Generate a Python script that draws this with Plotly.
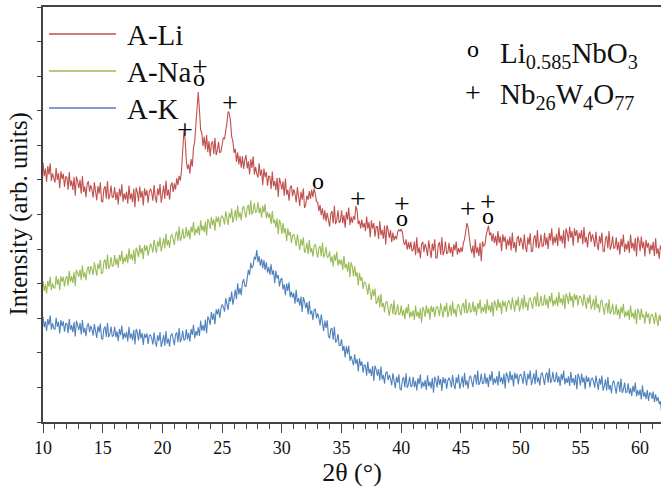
import numpy as np
import plotly.graph_objects as go

# 2theta grid (degrees): 0.1 deg steps, 10.0 .. 61.8
two_theta = np.arange(100, 619) / 10.0

# intensities (arb. units, offset-stacked as in the figure), one row per degree
a_li = [
    750, 711, 733, 695, 740, 715, 748, 697, 719, 700,
    692, 734, 700, 719, 676, 725, 702, 718, 680, 709,
    708, 672, 723, 682, 698, 671, 708, 654, 710, 695,
    676, 701, 660, 711, 665, 681, 650, 689, 696, 666,
    685, 672, 649, 693, 657, 641, 682, 660, 693, 638,
    637, 674, 682, 646, 697, 644, 656, 684, 648, 652,
    679, 642, 665, 629, 675, 652, 687, 637, 661, 643,
    666, 631, 684, 644, 661, 636, 674, 621, 678, 665,
    638, 681, 648, 668, 626, 676, 654, 671, 634, 664,
    675, 663, 640, 685, 650, 634, 676, 655, 688, 634,
    657, 684, 645, 698, 654, 672, 643, 684, 693, 665,
    690, 672, 705, 685, 712, 698, 728, 775, 842, 818,
    755, 732, 745, 718, 760, 738, 792, 810, 852, 898,
    954, 902, 845, 835, 798, 825, 788, 830, 780, 812,
    768, 805, 812, 775, 822, 772, 785, 810, 778, 782,
    798, 822, 818, 852, 865, 898, 892, 870, 825, 812,
    778, 790, 752, 780, 745, 770, 735, 768, 732, 758,
    772, 733, 754, 716, 760, 735, 768, 716, 738, 718,
    707, 748, 712, 730, 685, 733, 708, 723, 683, 711,
    710, 673, 724, 682, 697, 670, 706, 651, 706, 691,
    672, 696, 654, 704, 657, 672, 640, 678, 684, 653,
    673, 660, 635, 679, 642, 625, 666, 643, 675, 619,
    628, 655, 642, 668, 645, 672, 650, 675, 660, 638,
    635, 610, 628, 598, 618, 585, 612, 580, 605, 588,
    565, 602, 610, 574, 625, 572, 584, 612, 576, 580,
    612, 575, 598, 562, 608, 585, 620, 570, 594, 576,
    595, 585, 625, 612, 572, 582, 560, 585, 562, 575,
    552, 594, 559, 578, 534, 583, 559, 575, 536, 565,
    565, 529, 581, 540, 556, 530, 567, 513, 569, 555,
    532, 555, 520, 548, 525, 538, 528, 550, 556, 552,
    558, 548, 520, 512, 528, 498, 520, 500, 522, 495,
    497, 522, 482, 534, 488, 505, 474, 514, 521, 492,
    515, 503, 480, 525, 490, 474, 516, 495, 528, 474,
    475, 512, 520, 484, 535, 482, 494, 522, 486, 490,
    518, 488, 506, 478, 514, 496, 522, 484, 503, 490,
    505, 492, 518, 528, 552, 575, 562, 522, 505, 488,
    510, 475, 528, 488, 505, 480, 518, 465, 522, 509,
    512, 538, 552, 568, 540, 548, 522, 545, 518, 538,
    510, 552, 518, 537, 494, 543, 521, 536, 499, 528,
    510, 536, 496, 548, 503, 520, 490, 530, 538, 509,
    533, 521, 498, 543, 508, 492, 534, 513, 546, 492,
    495, 532, 540, 504, 555, 502, 514, 542, 506, 510,
    547, 511, 535, 500, 546, 524, 560, 511, 536, 518,
    544, 509, 562, 523, 540, 516, 554, 502, 560, 547,
    522, 565, 532, 552, 510, 560, 538, 555, 518, 548,
    530, 555, 514, 564, 519, 535, 505, 543, 551, 521,
    543, 530, 506, 550, 514, 497, 538, 516, 548, 494,
    493, 530, 538, 502, 552, 498, 510, 537, 501, 505,
    534, 497, 520, 484, 530, 507, 542, 492, 516, 498,
    524, 489, 542, 502, 519, 494, 532, 479, 536, 523,
    494, 536, 502, 521, 479, 527, 504, 518, 485, 513,
    496, 521, 480, 531, 486, 502, 472, 510, 497,
]

a_na = [
    408, 379, 398, 371, 408, 391, 420, 381, 401, 388,
    387, 422, 397, 414, 381, 422, 405, 420, 391, 416,
    421, 394, 437, 406, 421, 402, 434, 393, 440, 431,
    420, 441, 410, 453, 418, 433, 410, 443, 450, 427,
    451, 442, 425, 462, 435, 423, 458, 442, 469, 428,
    432, 463, 470, 442, 484, 443, 453, 477, 449, 453,
    483, 454, 473, 446, 483, 466, 495, 456, 476, 463,
    486, 459, 502, 471, 486, 467, 498, 457, 504, 495,
    477, 512, 487, 504, 471, 512, 495, 510, 481, 506,
    516, 507, 490, 527, 500, 488, 523, 507, 534, 493,
    511, 532, 502, 545, 510, 526, 503, 536, 543, 521,
    512, 543, 551, 523, 565, 524, 535, 559, 531, 535,
    564, 535, 555, 528, 565, 548, 578, 539, 559, 546,
    567, 540, 583, 553, 568, 549, 580, 539, 587, 578,
    558, 593, 569, 586, 553, 594, 578, 593, 564, 590,
    597, 588, 571, 609, 582, 570, 605, 589, 617, 576,
    592, 613, 582, 626, 591, 606, 583, 616, 624, 601,
    590, 621, 628, 599, 641, 600, 610, 634, 605, 609,
    636, 604, 620, 591, 625, 605, 631, 589, 607, 591,
    603, 572, 610, 575, 585, 562, 588, 543, 585, 572,
    544, 575, 546, 560, 523, 560, 539, 550, 518, 539,
    542, 530, 509, 543, 513, 497, 529, 510, 534, 489,
    499, 518, 485, 527, 490, 503, 478, 509, 514, 490,
    475, 504, 509, 479, 519, 476, 484, 506, 476, 478,
    493, 462, 479, 450, 485, 466, 493, 452, 470, 455,
    470, 440, 480, 445, 457, 435, 463, 419, 462, 450,
    421, 451, 421, 433, 395, 431, 409, 419, 385, 405,
    402, 389, 368, 400, 369, 353, 384, 364, 386, 341,
    349, 366, 332, 371, 332, 344, 317, 346, 349, 323,
    307, 336, 342, 312, 352, 309, 318, 340, 310, 313,
    337, 307, 324, 297, 332, 313, 341, 301, 319, 305,
    323, 295, 337, 305, 319, 299, 329, 287, 333, 323,
    304, 338, 313, 329, 296, 336, 318, 333, 303, 328,
    335, 325, 307, 343, 315, 302, 336, 319, 345, 303,
    319, 339, 307, 349, 313, 327, 303, 335, 341, 317,
    308, 338, 344, 315, 356, 314, 323, 346, 317, 320,
    348, 318, 336, 308, 344, 326, 354, 314, 333, 319,
    341, 313, 355, 323, 337, 317, 347, 305, 351, 341,
    322, 356, 330, 346, 312, 352, 334, 348, 318, 342,
    352, 342, 324, 360, 332, 319, 353, 336, 362, 320,
    338, 358, 326, 368, 332, 346, 322, 354, 360, 336,
    327, 357, 363, 334, 375, 333, 342, 365, 336, 339,
    368, 338, 356, 328, 364, 346, 374, 334, 353, 339,
    362, 334, 376, 344, 358, 338, 368, 326, 372, 362,
    341, 375, 349, 365, 331, 371, 353, 367, 337, 361,
    364, 353, 335, 370, 341, 327, 361, 343, 368, 326,
    337, 356, 324, 366, 330, 341, 317, 348, 353, 328,
    310, 339, 344, 315, 355, 312, 321, 342, 312, 314,
    340, 309, 327, 298, 333, 315, 342, 302, 320, 306,
    324, 295, 337, 303, 316, 297, 326, 283, 328, 318,
    295, 328, 302, 311, 284, 320, 302, 314, 283, 307,
    312, 301, 283, 317, 290, 277, 310, 292, 318,
]

a_k = [
    304, 274, 291, 263, 298, 280, 308, 267, 286, 271,
    267, 301, 275, 290, 256, 295, 277, 291, 261, 284,
    285, 257, 298, 266, 280, 260, 289, 247, 293, 282,
    266, 286, 253, 295, 258, 272, 248, 279, 285, 260,
    278, 268, 250, 283, 256, 243, 277, 259, 285, 242,
    240, 270, 276, 246, 287, 245, 254, 276, 247, 250,
    275, 245, 262, 234, 269, 251, 279, 239, 258, 243,
    261, 233, 275, 242, 256, 236, 266, 224, 269, 259,
    236, 269, 242, 257, 223, 255, 243, 256, 226, 249,
    252, 242, 224, 259, 231, 218, 251, 234, 260, 217,
    232, 252, 220, 263, 227, 241, 218, 250, 256, 233,
    222, 253, 259, 231, 272, 231, 241, 264, 236, 239,
    268, 239, 258, 232, 269, 252, 281, 242, 263, 250,
    274, 249, 293, 264, 280, 263, 296, 256, 305, 297,
    281, 318, 295, 314, 283, 326, 311, 328, 301, 328,
    340, 333, 319, 358, 334, 324, 361, 348, 377, 339,
    359, 383, 355, 401, 369, 387, 367, 403, 413, 393,
    392, 425, 440, 425, 460, 445, 452, 478, 470, 497,
    462, 480, 452, 472, 445, 468, 440, 462, 432, 448,
    426, 456, 426, 439, 401, 437, 415, 425, 392, 412,
    416, 383, 398, 367, 400, 379, 404, 361, 377, 360,
    373, 342, 382, 347, 358, 336, 363, 318, 361, 349,
    329, 346, 311, 350, 311, 322, 295, 324, 327, 300,
    314, 300, 279, 311, 279, 263, 293, 272, 294, 249,
    242, 268, 271, 238, 275, 230, 235, 254, 221, 221,
    240, 206, 220, 187, 219, 197, 221, 177, 191, 173,
    164, 196, 168, 182, 146, 184, 163, 175, 143, 165,
    163, 134, 175, 141, 154, 133, 162, 119, 163, 152,
    134, 153, 120, 160, 123, 136, 111, 142, 146, 121,
    136, 125, 106, 141, 112, 98, 131, 113, 138, 95,
    93, 123, 129, 100, 141, 99, 108, 131, 102, 105,
    131, 101, 119, 91, 127, 109, 137, 97, 116, 102,
    121, 93, 135, 103, 117, 97, 127, 85, 131, 121,
    100, 134, 108, 124, 90, 130, 112, 126, 96, 120,
    128, 118, 100, 136, 108, 95, 129, 112, 138, 96,
    112, 132, 100, 142, 106, 120, 96, 128, 134, 110,
    101, 131, 137, 108, 149, 107, 116, 139, 110, 113,
    141, 111, 129, 101, 137, 119, 147, 107, 126, 112,
    133, 105, 147, 115, 129, 109, 139, 97, 143, 133,
    113, 147, 121, 137, 103, 143, 125, 139, 109, 133,
    139, 129, 111, 147, 119, 106, 140, 123, 149, 107,
    121, 141, 109, 151, 115, 129, 105, 137, 143, 119,
    107, 137, 143, 114, 155, 113, 122, 145, 116, 119,
    144, 114, 132, 104, 139, 121, 149, 109, 127, 113,
    132, 104, 145, 113, 127, 106, 136, 94, 140, 129,
    106, 140, 114, 129, 95, 134, 116, 129, 100, 123,
    128, 117, 99, 134, 106, 93, 126, 108, 134, 91,
    104, 123, 91, 131, 94, 107, 83, 114, 120, 95,
    82, 111, 117, 87, 126, 84, 93, 114, 85, 87,
    112, 81, 98, 75, 105, 86, 114, 74, 92, 77,
    94, 65, 106, 73, 86, 67, 92, 61, 84, 83,
    67, 88, 58, 80, 60, 72, 52, 60, 28,
]

series_names = ["A-Li", "A-Na", "A-K"]
series_colors = ["#C0504D", "#9BBB59", "#4F81BD"]

# phase reflection markers (2theta, height)
plus_x = [21.9, 23.15, 25.65, 36.4, 40.1, 45.6, 47.3]
plus_y = [847, 1029, 925, 645, 633, 616, 639]
circ_x = [23.1, 33.05, 40.1, 47.3]
circ_y = [995, 698, 590, 596]

major_ticks = [10, 15, 20, 25, 30, 35, 40, 45, 50, 55, 60]

FONT = "Liberation Serif"
W, H = 661, 489
ML, MR, MT, MB = 43, 0, 7, 67
PW, PH = W - ML - MR, H - MT - MB


def px_x(px):
    return (px - ML) / PW


def px_y(py):
    return (H - MB - py) / PH


fig = go.Figure()
for name, ys, col in zip(series_names, [a_li, a_na, a_k], series_colors):
    fig.add_trace(go.Scatter(x=two_theta, y=ys, mode="lines", name=name,
                             line=dict(color=col, width=1.1), showlegend=False))

annotations = []
for x, y in zip(plus_x, plus_y):
    annotations.append(dict(x=x, y=y, xref="x", yref="y", text="+", showarrow=False,
                            font=dict(family=FONT, size=28, color="#000"),
                            xanchor="center", yanchor="middle"))
for x, y in zip(circ_x, circ_y):
    annotations.append(dict(x=x, y=y, xref="x", yref="y", text="o", showarrow=False,
                            font=dict(family=FONT, size=24, color="#000"),
                            xanchor="center", yanchor="middle"))

# sample legend (left)
shapes = []
leg_y = [34, 71, 108]
for name, col, ly in zip(series_names, series_colors, leg_y):
    shapes.append(dict(type="line", xref="paper", yref="paper",
                       x0=px_x(49), x1=px_x(116), y0=px_y(ly), y1=px_y(ly),
                       line=dict(color=col, width=1.6)))
    annotations.append(dict(x=px_x(125), y=px_y(ly + 1), xref="paper", yref="paper",
                            text=name, showarrow=False, xanchor="left", yanchor="middle",
                            font=dict(family=FONT, size=29, color="#111")))

# phase legend (right)
annotations.append(dict(x=px_x(473), y=px_y(49), xref="paper", yref="paper", text="o",
                        showarrow=False, xanchor="center", yanchor="middle",
                        font=dict(family=FONT, size=24, color="#000")))
annotations.append(dict(x=px_x(473), y=px_y(92), xref="paper", yref="paper", text="+",
                        showarrow=False, xanchor="center", yanchor="middle",
                        font=dict(family=FONT, size=28, color="#000")))
annotations.append(dict(x=px_x(498), y=px_y(55), xref="paper", yref="paper",
                        text="Li<sub>0.585</sub>NbO<sub>3</sub>",
                        showarrow=False, xanchor="left", yanchor="middle",
                        font=dict(family=FONT, size=29, color="#111")))
annotations.append(dict(x=px_x(498), y=px_y(96), xref="paper", yref="paper",
                        text="Nb<sub>26</sub>W<sub>4</sub>O<sub>77</sub>",
                        showarrow=False, xanchor="left", yanchor="middle",
                        font=dict(family=FONT, size=29, color="#111")))

# y-axis title
annotations.append(dict(x=px_x(18), y=0.5, xref="paper", yref="paper",
                        text="Intensity (arb. units)", textangle=-90, showarrow=False,
                        xanchor="center", yanchor="middle",
                        font=dict(family=FONT, size=25, color="#111")))

axis_col = "#444"
fig.update_layout(
    width=W, height=H,
    margin=dict(l=ML, r=MR, t=MT, b=MB),
    paper_bgcolor="white", plot_bgcolor="white",
    font=dict(family=FONT, color="#111"),
    shapes=shapes, annotations=annotations,
    xaxis=dict(range=[10, 61.75], tickvals=major_ticks, ticktext=[str(t) for t in major_ticks],
               ticks="outside", ticklen=9, tickwidth=1.3, tickcolor=axis_col,
               minor=dict(dtick=1, tick0=10, ticks="outside", ticklen=5, tickwidth=1.1,
                          tickcolor=axis_col),
               showline=True, linecolor=axis_col, linewidth=1.6, mirror=True,
               showgrid=False, zeroline=False,
               tickfont=dict(family=FONT, size=18, color="#111"),
               title=dict(text="2θ (°)", font=dict(family=FONT, size=26, color="#111"),
                          standoff=2)),
    yaxis=dict(range=[0, 1200], dtick=100, tick0=0, ticks="outside", ticklen=4, tickwidth=1.1,
               tickcolor=axis_col, showticklabels=False,
               showline=True, linecolor=axis_col, linewidth=1.6, mirror=False,
               showgrid=False, zeroline=False),
)

fig.write_html("out.html")
